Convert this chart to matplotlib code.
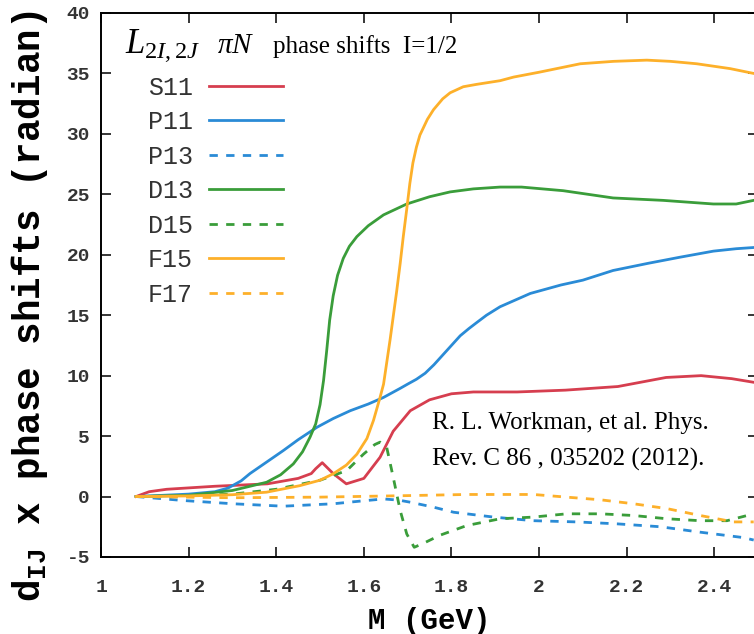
import numpy as np
import matplotlib
matplotlib.use('Agg')
import matplotlib.pyplot as plt

# phase shifts (M in GeV, d_IJ x phase shift in radian)
x_S11=[1.08,1.11,1.15,1.26,1.38,1.45,1.48,1.49,1.505,1.53,1.56,1.60,1.637,1.667,1.706,1.75,1.80,1.85,1.95,2.06,2.18,2.29,2.37,2.44,2.49]
y_S11=[0.0,0.4,0.6,0.85,1.05,1.5,1.9,2.3,2.8,1.9,1.05,1.5,3.25,5.4,7.1,8.0,8.5,8.65,8.65,8.8,9.1,9.85,10.0,9.75,9.45]

x_P11=[1.08,1.2,1.26,1.29,1.32,1.34,1.38,1.416,1.45,1.493,1.53,1.569,1.61,1.645,1.683,1.70,1.72,1.74,1.76,1.78,1.80,1.82,1.84,1.858,1.88,1.911,1.98,2.05,2.10,2.169,2.25,2.322,2.398,2.45,2.49]
y_P11=[0.0,0.2,0.4,0.7,1.3,1.9,2.9,3.8,4.7,5.73,6.45,7.1,7.65,8.2,8.95,9.3,9.7,10.2,10.9,11.7,12.5,13.3,13.9,14.4,15.0,15.7,16.8,17.5,17.9,18.7,19.3,19.8,20.3,20.5,20.6]

x_P13=[1.08,1.188,1.302,1.416,1.53,1.60,1.645,1.68,1.706,1.759,1.805,1.896,1.987,2.086,2.178,2.277,2.368,2.467,2.49]
y_P13=[0.0,-0.33,-0.6,-0.8,-0.6,-0.35,-0.2,-0.3,-0.47,-0.88,-1.3,-1.7,-2.0,-2.1,-2.26,-2.5,-2.95,-3.4,-3.6]

x_D13=[1.08,1.2,1.30,1.378,1.41,1.439,1.46,1.477,1.49,1.50,1.508,1.515,1.522,1.530,1.54,1.553,1.567,1.584,1.61,1.645,1.698,1.75,1.797,1.85,1.911,1.96,2.055,2.169,2.283,2.398,2.45,2.49]
y_D13=[0.0,0.1,0.5,1.18,1.8,2.7,3.7,4.9,6.0,7.6,9.6,12.0,14.6,16.6,18.3,19.7,20.7,21.5,22.4,23.3,24.2,24.8,25.2,25.45,25.6,25.6,25.3,24.7,24.5,24.2,24.2,24.5]

x_D15=[1.08,1.2,1.3,1.4,1.5,1.561,1.599,1.625,1.637,1.652,1.667,1.683,1.698,1.715,1.74,1.774,1.835,1.911,1.987,2.063,2.14,2.216,2.292,2.368,2.429,2.49]
y_D15=[0.0,0.05,0.2,0.6,1.35,2.15,3.5,4.3,4.5,4.1,1.6,-1.16,-3.1,-4.2,-3.8,-3.2,-2.4,-1.84,-1.7,-1.43,-1.43,-1.57,-1.84,-2.0,-2.0,-1.43]

x_F15=[1.08,1.2,1.3,1.378,1.454,1.50,1.530,1.56,1.584,1.607,1.622,1.637,1.645,1.66,1.675,1.683,1.69,1.698,1.705,1.712,1.72,1.728,1.745,1.759,1.78,1.797,1.827,1.858,1.911,1.942,2.0,2.094,2.17,2.246,2.30,2.36,2.436,2.49]
y_F15=[0.0,0.05,0.15,0.36,0.9,1.35,1.88,2.6,3.5,4.8,6.3,8.2,9.3,13.0,17.0,19.3,21.5,23.8,25.9,27.6,28.9,29.9,31.2,32.0,32.9,33.4,33.9,34.1,34.4,34.7,35.1,35.8,36.0,36.1,36.0,35.8,35.4,35.0]

x_F17=[1.08,1.3,1.5,1.706,1.835,1.987,2.063,2.14,2.216,2.292,2.368,2.444,2.49]
y_F17=[0.0,-0.1,-0.05,0.08,0.17,0.17,-0.05,-0.27,-0.6,-1.0,-1.57,-2.1,-2.1]

xticks=[1,1.2,1.4,1.6,1.8,2.0,2.2,2.4]
xticklabels=['1','1.2','1.4','1.6','1.8','2','2.2','2.4']
yticks=[-5,0,5,10,15,20,25,30,35,40]
yticklabels=['-5','0','5','10','15','20','25','30','35','40']

red='#d63e4f'
blue='#2a8bd6'
green='#3a9d3a'
orange='#fdb02a'

plt.rcParams['mathtext.fontset']='custom'
plt.rcParams['mathtext.rm']='Liberation Serif'
plt.rcParams['mathtext.it']='Liberation Serif:italic'
plt.rcParams['mathtext.bf']='Liberation Serif:bold'
plt.rcParams['mathtext.tt']='Liberation Mono:bold'

fig=plt.figure(figsize=(7.54,6.34),dpi=100)
ax=fig.add_axes([0.134,0.1215,0.8714,0.858])

lw=2.0
dash=(0,(3,3))
ax.plot(x_S11,y_S11,color=red,lw=lw,label='S11')
ax.plot(x_P11,y_P11,color=blue,lw=lw,label='P11')
ax.plot(x_P13,y_P13,color=blue,lw=lw,ls=dash,label='P13')
ax.plot(x_D13,y_D13,color=green,lw=lw,label='D13')
ax.plot(x_D15,y_D15,color=green,lw=lw,ls=dash,label='D15')
ax.plot(x_F15,y_F15,color=orange,lw=lw,label='F15')
ax.plot(x_F17,y_F17,color=orange,lw=lw,ls=dash,label='F17')

ax.set_xlim(1,2.5)
ax.set_ylim(-5,40)
ax.set_xticks(xticks)
ax.set_xticklabels(xticklabels,fontfamily='Liberation Mono',fontweight='bold',fontsize=14,color='#333333')
ax.set_yticks(yticks)
ax.set_yticklabels(yticklabels,fontfamily='Liberation Mono',fontweight='bold',fontsize=14,color='#333333')
ax.tick_params(axis='both',direction='in',length=7.5,width=1.1,top=True,right=True)
ax.tick_params(axis='x',pad=16)
ax.tick_params(axis='y',pad=8)
for s in ax.spines.values():
    s.set_linewidth(1.4)

ax.set_xlabel('M (GeV)',fontfamily='Liberation Mono',fontweight='bold',fontsize=21,labelpad=8)
ax.set_ylabel(r'$\mathtt{d_{IJ}}$ x phase shifts (radian)',fontfamily='Liberation Mono',fontweight='bold',fontsize=27)
ax.yaxis.set_label_coords(-0.078,0.461)

leg=ax.legend(loc='upper left',bbox_to_anchor=(0.0715,0.885),frameon=False,markerfirst=False,
              prop={'family':'Liberation Mono','size':18},handlelength=2.96,handletextpad=0.64,
              labelspacing=0.42,borderpad=0,borderaxespad=0)
for t in leg.get_texts():
    t.set_color('#333333')

ax.text(0.0365,0.9265,r'$L_{2I,2J}$',transform=ax.transAxes,fontsize=25,va='baseline')
ax.text(0.1766,0.9265,r'$\pi N$',transform=ax.transAxes,fontsize=21,va='baseline')
ax.text(0.262,0.9265,'phase shifts  I=1/2',transform=ax.transAxes,
        fontfamily='Liberation Serif',fontsize=18,va='baseline')

ax.text(1.756,2.6,'R. L. Workman, et al. Phys.\nRev. C 86 , 035202 (2012).',
        fontfamily='Liberation Serif',fontsize=18,va='baseline',linespacing=1.75)

fig.savefig('out.png',dpi=100)
